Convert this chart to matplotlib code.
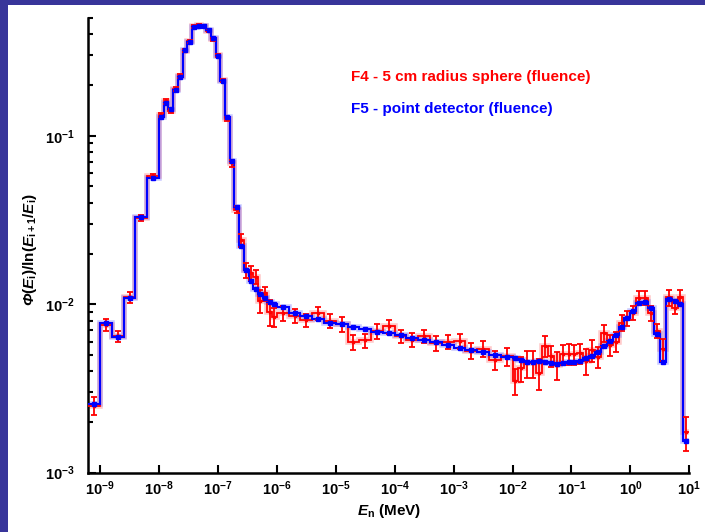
import numpy as np
import matplotlib
matplotlib.use('Agg')
import matplotlib.pyplot as plt
from matplotlib.ticker import LogLocator, NullFormatter, NullLocator
from matplotlib.patches import Rectangle

# Fonts: bold Arial-like everywhere, math in the same family
plt.rcParams['font.family'] = ['Liberation Sans', 'DejaVu Sans']
plt.rcParams['font.weight'] = 'bold'
plt.rcParams['mathtext.fontset'] = 'custom'
plt.rcParams['mathtext.rm'] = 'Liberation Sans:bold'
plt.rcParams['mathtext.it'] = 'Liberation Sans:italic:bold'
plt.rcParams['mathtext.bf'] = 'Liberation Sans:bold'
phi = r'\Phi'
if 'mathtext.bfit' in plt.rcParams:
    # italic capital Greek needs the bold-italic slot
    plt.rcParams['mathtext.bfit'] = 'Liberation Sans:italic:bold'
    phi = r'\mathbfit{\Phi}'

# Bin edges (log10 of energy in MeV)
log_edges = [-9.2, -9.0, -8.8, -8.6, -8.4, -8.2,
             -8.0, -7.92, -7.84, -7.76, -7.68, -7.6, -7.52, -7.44, -7.36, -7.28,
             -7.2, -7.12, -7.04, -6.96, -6.88, -6.8, -6.72, -6.64, -6.56, -6.48,
             -6.4, -6.32, -6.24, -6.16, -6.08,
             -6.0,
             -5.8, -5.6, -5.4, -5.2, -5.0, -4.8, -4.6, -4.4, -4.2, -4.0,
             -3.8, -3.6, -3.4, -3.2, -3.0, -2.8, -2.6, -2.4, -2.2,
             -2.0, -1.9, -1.8, -1.7, -1.6, -1.5, -1.4, -1.3, -1.2, -1.1,
             -1.0, -0.9, -0.8, -0.7, -0.6, -0.5, -0.4, -0.3, -0.2, -0.1,
             0.0, 0.1, 0.2, 0.3, 0.4, 0.5, 0.6, 0.7, 0.8, 0.9, 1.0]

# F5 - point detector
f5_vals = [0.00255, 0.0077, 0.00643, 0.0109, 0.0331, 0.0565,
           0.1297, 0.1556, 0.1435, 0.1866, 0.2239, 0.3222, 0.3614, 0.4436, 0.449, 0.447,
           0.4236, 0.3784, 0.2972, 0.211, 0.1285, 0.0708, 0.0379, 0.0223, 0.0160, 0.01374,
           0.0123, 0.01146, 0.01086, 0.0103, 0.0101,
           0.0096,
           0.00885, 0.00853, 0.00815, 0.00778, 0.0076, 0.00736, 0.00711, 0.00684, 0.00673, 0.00654,
           0.00628, 0.0061, 0.00593, 0.0057, 0.00553, 0.00536, 0.00523, 0.0050, 0.00485,
           0.00479, 0.00468, 0.00457, 0.00457, 0.00462, 0.00451, 0.00447, 0.00441, 0.00447, 0.00453,
           0.00457, 0.00462, 0.00479, 0.00493, 0.00524, 0.00568, 0.00605, 0.00657, 0.00736, 0.00826,
           0.00913, 0.01014, 0.01036, 0.00946, 0.00664, 0.00457, 0.01071, 0.0105, 0.0100, 0.00155]

# F4 - 5 cm radius sphere
f4_vals = [0.0025, 0.00755, 0.00645, 0.0110, 0.0325, 0.0575,
           0.133, 0.160, 0.141, 0.189, 0.226, 0.320, 0.364, 0.447, 0.452, 0.447,
           0.420, 0.375, 0.300, 0.213, 0.126, 0.0685, 0.0364, 0.0240, 0.0160, 0.01535,
           0.0146, 0.0105, 0.0116, 0.0090, 0.00845,
           0.00885,
           0.00853, 0.00803, 0.00885, 0.0080, 0.0076, 0.00597, 0.0061, 0.0069, 0.0074, 0.00646,
           0.00616, 0.00646, 0.00585, 0.0060, 0.00606, 0.0053, 0.00546, 0.00469, 0.0049,
           0.0035, 0.00417, 0.00447, 0.00446, 0.0039, 0.00566, 0.00493, 0.00437, 0.00505, 0.00508,
           0.00505, 0.00512, 0.00459, 0.00536, 0.00487, 0.00673, 0.00574, 0.0060, 0.00778, 0.00826,
           0.00891, 0.01094, 0.01096, 0.00885, 0.00697, 0.0054, 0.0110, 0.0095, 0.0110, 0.00175]

f4_err = [0.0003, 0.0006, 0.0005, 0.0008, 0.0012, 0.0015,
          0.004, 0.005, 0.004, 0.005, 0.005, 0.007, 0.007, 0.008, 0.008, 0.008,
          0.008, 0.008, 0.007, 0.005, 0.004, 0.003, 0.0018, 0.0022, 0.0016, 0.0015,
          0.0014, 0.0016, 0.0011, 0.0016, 0.0011,
          0.0009,
          0.0008, 0.0007, 0.0008, 0.0008, 0.0008, 0.0006, 0.0006, 0.0007, 0.0007, 0.0006,
          0.0006, 0.0006, 0.0006, 0.0006, 0.0006, 0.0006, 0.0006, 0.0006, 0.0006,
          0.0006, 0.0007, 0.0008, 0.0008, 0.0008, 0.0008, 0.0007, 0.0008, 0.0007, 0.0007,
          0.0007, 0.0007, 0.0008, 0.0008, 0.0007, 0.0008, 0.0008, 0.0008, 0.0008, 0.0008,
          0.0009, 0.0011, 0.0011, 0.0009, 0.0007, 0.0008, 0.0012, 0.0008, 0.0012, 0.0004]

x_ticks = [1e-9, 1e-8, 1e-7, 1e-6, 1e-5, 1e-4, 1e-3, 1e-2, 1e-1, 1e0, 1e1]
x_labels = [r'$10^{-9}$', r'$10^{-8}$', r'$10^{-7}$', r'$10^{-6}$', r'$10^{-5}$', r'$10^{-4}$',
            r'$10^{-3}$', r'$10^{-2}$', r'$10^{-1}$', r'$10^{0}$', r'$10^{1}$']
y_ticks = [1e-3, 1e-2, 1e-1]
y_labels = [r'$10^{-3}$', r'$10^{-2}$', r'$10^{-1}$']

edges = 10.0 ** np.array(log_edges)
centers = np.sqrt(edges[:-1] * edges[1:])

fig = plt.figure(figsize=(7.05, 5.32), dpi=100, facecolor='white')

# Purple frame strips (left and top)
frame = '#38359A'
fig.patches.append(Rectangle((0, 0), 8 / 705, 1, transform=fig.transFigure,
                             facecolor=frame, edgecolor='none', zorder=-10))
fig.patches.append(Rectangle((0, 1 - 5 / 532), 1, 5 / 532, transform=fig.transFigure,
                             facecolor=frame, edgecolor='none', zorder=-10))

ax = fig.add_axes([88.3 / 705, (532 - 472.7) / 532, (689.3 - 88.3) / 705, (472.7 - 18) / 532])
ax.set_xscale('log')
ax.set_yscale('log')

# Histograms with a soft halo
ax.stairs(f4_vals, edges, baseline=None, color='#ff5050', lw=4, alpha=0.3, zorder=1)
ax.stairs(f5_vals, edges, baseline=None, color='#5050ff', lw=4, alpha=0.3, zorder=2)
ax.stairs(f4_vals, edges, baseline=None, color='red', lw=1.3, zorder=3)
ax.stairs(f5_vals, edges, baseline=None, color='blue', lw=1.5, zorder=4)

# Error bars and markers
ax.errorbar(centers, f4_vals, yerr=f4_err, fmt='s', ms=1.5, color='red', ecolor='red',
            elinewidth=1.3, capsize=2.2, capthick=1.3, zorder=5)
ax.plot(centers, f5_vals, 's', ms=2.5, color='blue', zorder=6)

ax.set_xlim(10 ** -9.2, 10)
ax.set_ylim(1e-3, 0.5)

ax.set_xticks(x_ticks)
ax.set_xticklabels(x_labels)
ax.xaxis.set_minor_locator(NullLocator())
ax.set_yticks(y_ticks)
ax.set_yticklabels(y_labels)
ax.yaxis.set_minor_locator(LogLocator(base=10, subs=np.arange(2, 10)))
ax.yaxis.set_minor_formatter(NullFormatter())

ax.tick_params(which='major', direction='in', length=6, width=1.5, labelsize=10.5)
ax.tick_params(which='minor', direction='in', length=3.5, width=1.5)
ax.tick_params(axis='x', which='major', pad=5)
ax.tick_params(axis='y', which='major', pad=10)

for side in ['top', 'right']:
    ax.spines[side].set_visible(False)
for side in ['left', 'bottom']:
    ax.spines[side].set_linewidth(1.8)

ax.set_xlabel(r'$E_\mathrm{n}$ (MeV)', fontsize=11, fontweight='bold', labelpad=3)
ax.set_ylabel('$' + phi + r'(E_\mathrm{i})/\mathrm{ln}(E_\mathrm{i+1}/E_\mathrm{i})$',
              fontsize=11, fontweight='bold')
ax.yaxis.set_label_coords(-0.082, 0.49)

fig.text(350.7 / 705, 1 - 76.7 / 532, 'F4 - 5 cm radius sphere (fluence)', color='red',
         fontsize=11, fontweight='bold', va='center', ha='left')
fig.text(350.7 / 705, 1 - 109.3 / 532, 'F5 - point detector (fluence)', color='blue',
         fontsize=11, fontweight='bold', va='center', ha='left')

fig.savefig('out.png', dpi=100, facecolor='white')
